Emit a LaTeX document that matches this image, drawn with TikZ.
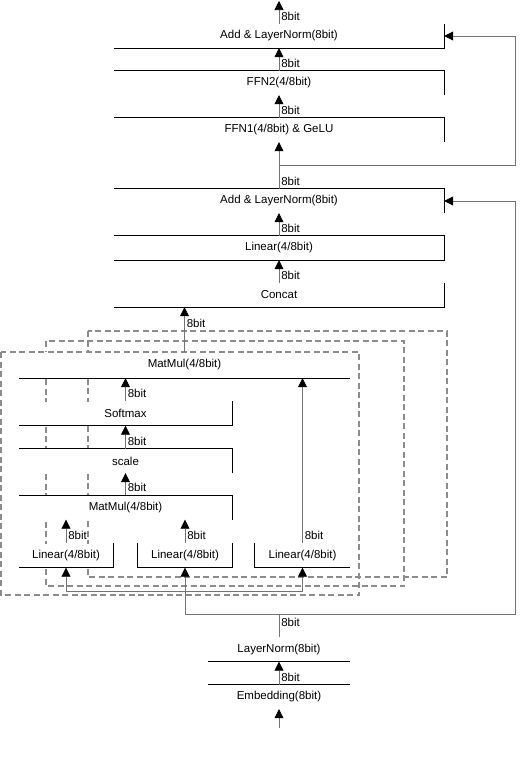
\documentclass[tikz,border=0pt]{standalone}
\usepackage{fontspec}
\setmainfont{Liberation Sans}
\usetikzlibrary{arrows.meta, positioning, calc}

\begin{document}
\begin{tikzpicture}[x=1pt, y=-1pt,
    every node/.style={font=\fontsize{11.5}{13}\selectfont},
    blk/.style={rectangle, fill=white, inner sep=0pt, minimum height=24pt},
    wide/.style={blk, minimum width=330pt},
    boxline/.style={draw=black, line width=0.9pt},
    conn/.style={draw=black!55, line width=0.7pt},
    arr/.style={conn, -{Triangle[length=9pt, width=9pt, color=black, fill=black]}},
    bitlbl/.style={anchor=south west, inner sep=1pt, xshift=1pt, yshift=2pt},
    headframe/.style={draw=black!45, dash pattern=on 6pt off 3.5pt, line width=1.2pt}
]
    \useasboundingbox (0,0) rectangle (530,766);

    % Heads behind
    \draw [headframe] (88,331) rectangle (447,577);
    \draw [headframe] (46,341) rectangle (404,586);

    % Encoder column
    \node (aln1) [wide] at (279,36) {Add \& LayerNorm(8bit)};
    \node (ffn2) [wide] at (279,83) {FFN2(4/8bit)};
    \node (ffn1) [wide] at (279,130) {FFN1(4/8bit) \& GeLU};
    \node (aln2) [wide] at (279,201) {Add \& LayerNorm(8bit)};
    \node (lin) [wide] at (279,248) {Linear(4/8bit)};
    \node (concat) [wide] at (279,295) {Concat};

    \draw [boxline] (aln1.north east) -- (aln1.south east) -- (aln1.south west);
    \draw [boxline] (ffn2.south east) -- (ffn2.north east) -- (ffn2.north west);
    \draw [boxline] (ffn1.south east) -- (ffn1.north east) -- (ffn1.north west);
    \draw [boxline] (aln2.south east) -- (aln2.north east) -- (aln2.north west);
    \draw [boxline] (lin.north west) -- (lin.north east) -- (lin.south east) -- (lin.south west);
    \draw [boxline] (concat.north east) -- (concat.south east) -- (concat.south west);

    % Attention head (front)
    \node (mm2) [blk, minimum width=331pt, minimum height=26pt] at (184.5,365) {MatMul(4/8bit)};
    \node (softmax) [blk, minimum width=213pt] at (125.5,413.5) {Softmax};
    \node (scale) [blk, minimum width=213pt] at (125.5,461) {scale};
    \node (mm1) [blk, minimum width=213pt] at (125.5,507.5) {MatMul(4/8bit)};
    \node (linq) [blk, minimum width=94pt] at (66,555.5) {Linear(4/8bit)};
    \node (link) [blk, minimum width=94pt] at (185,555.5) {Linear(4/8bit)};
    \node (linv) [blk, minimum width=95pt] at (302.5,555.5) {Linear(4/8bit)};

    \draw [boxline] (mm2.south west) -- (mm2.south east);
    \draw [boxline] (softmax.north east) -- (softmax.south east) -- (softmax.south west);
    \draw [boxline] (scale.south east) -- (scale.north east) -- (scale.north west);
    \draw [boxline] (mm1.south east) -- (mm1.north east) -- (mm1.north west);
    \draw [boxline] (linq.north east) -- (linq.south east) -- (linq.south west);
    \draw [boxline] (link.north west) -- (link.south west) -- (link.south east) -- (link.north east);
    \draw [boxline] (linv.north west) -- (linv.south west) -- (linv.south east);

    \draw [headframe] (1,352) rectangle (359,595);

    % Input
    \node (ln) [blk, minimum width=142pt] at (279,649.5) {LayerNorm(8bit)};
    \node (emb) [blk, minimum width=142pt] at (279,697) {Embedding(8bit)};
    \draw [boxline] (ln.south west) -- (ln.south east);
    \draw [boxline] (emb.north west) -- (emb.north east);

    \coordinate (in) at (279,728);
    \coordinate (out) at (279,1);
    \coordinate (fork) at (279,614);
    \coordinate (res) at (279,165);
    \coordinate (qkv) at (link.south |- 0,591);

    % Main flow
    \draw [arr] (in) -- (emb.south);
    \draw [arr] (emb.north) -- node[bitlbl, at start] {8bit} (ln.south);
    \draw [conn] (ln.north) -- node[bitlbl, pos=0.3] {8bit} (fork);
    \draw [arr] (fork) -| (link.south);
    \draw [arr] (qkv) -| (linq.south);
    \draw [arr] (qkv) -| (linv.south);

    \draw [arr] (linq.north) -- node[bitlbl, at start] {8bit} (linq.north |- mm1.south);
    \draw [arr] (link.north) -- node[bitlbl, at start] {8bit} (link.north |- mm1.south);
    \draw [arr] (linv.north) -- node[bitlbl, at start] {8bit} (linv.north |- mm2.south);
    \draw [arr] (mm1.north) -- node[bitlbl, at start] {8bit} (scale.south);
    \draw [arr] (scale.north) -- node[bitlbl, at start] {8bit} (softmax.south);
    \draw [arr] (softmax.north) -- node[bitlbl, at start] {8bit} (softmax.north |- mm2.south);
    \draw [arr] (mm2.north) -- node[bitlbl, pos=0.47] {8bit} (mm2.north |- concat.south);

    \draw [arr] (concat.north) -- node[bitlbl, at start] {8bit} (lin.south);
    \draw [arr] (lin.north) -- node[bitlbl, at start] {8bit} (aln2.south);
    \draw [arr] (aln2.north) -- node[bitlbl, at start] {8bit} (ffn1.south);
    \draw [arr] (ffn1.north) -- node[bitlbl, at start] {8bit} (ffn2.south);
    \draw [arr] (ffn2.north) -- node[bitlbl, at start] {8bit} (aln1.south);
    \draw [arr] (aln1.north) -- node[bitlbl, at start] {8bit} (out);

    % Residuals
    \draw [arr] (fork) -- ++(236,0) |- (aln2.east);
    \draw [arr] (res) -- ++(236,0) |- (aln1.east);
\end{tikzpicture}
\end{document}
